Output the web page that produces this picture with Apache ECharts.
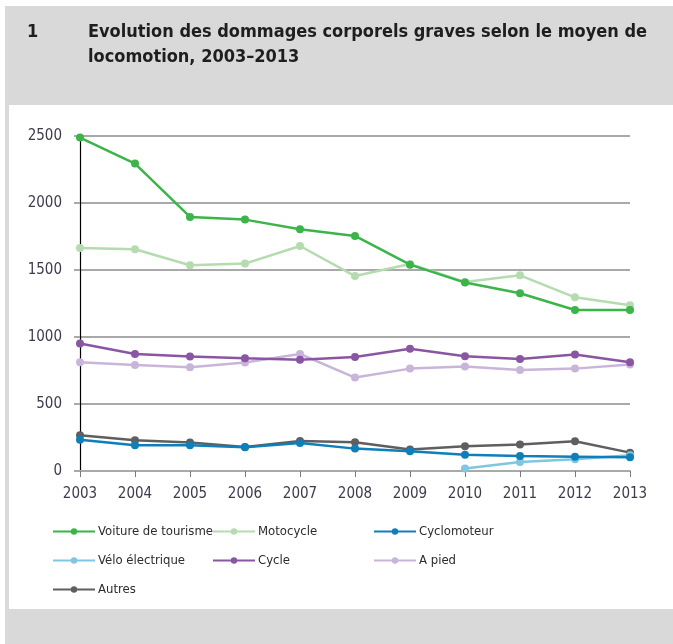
<!DOCTYPE html>
<html><head><meta charset="utf-8">
<script src="https://cdn.jsdelivr.net/npm/echarts@6/dist/echarts.min.js"></script>
<style>html,body{margin:0;padding:0;background:#fff}#c{width:673px;height:644px}</style>
</head><body><div id="c"></div>
<script>
const years = ['2003','2004','2005','2006','2007','2008','2009','2010','2011','2012','2013'];
const voiture = [2488, 2294, 1896, 1876, 1804, 1754, 1540, 1406, 1326, 1202, 1202];
const motocycle = [1664, 1655, 1535, 1548, 1679, 1455, 1545, 1411, 1460, 1296, 1237];
const cyclomoteur = [234, 192, 192, 177, 209, 167, 147, 122, 112, 107, 102];
const veloElec = [null, null, null, null, null, null, null, 18, 67, 87, 117];
const cycle = [951, 873, 854, 841, 831, 851, 913, 856, 836, 869, 811];
const aPied = [811, 791, 774, 809, 873, 697, 764, 779, 754, 764, 794];
const autres = [266, 229, 212, 179, 224, 214, 160, 184, 197, 222, 137];
const seriesNames = ['Voiture de tourisme','Motocycle','Cyclomoteur','Vélo électrique','Cycle','A pied','Autres'];
const seriesData = [voiture, motocycle, cyclomoteur, veloElec, cycle, aPied, autres];
const colors = ['#3bb54a','#b5dcae','#0e7fb8','#7fc6e2','#8a56a4','#c9b5da','#5f5f5f'];
const titleNum = '1';
const titleLine1 = 'Evolution des dommages corporels graves selon le moyen de';
const titleLine2 = 'locomotion, 2003–2013';

const FONT = '"DejaVu Sans Condensed", "Liberation Sans Narrow", sans-serif';
const chart = echarts.init(document.getElementById('c'), null, {renderer:'canvas'});

const legendPos = [[52,525],[212,525],[373,525],[52,554],[212,554],[373,554],[52,583]];
const legends = seriesNames.map((n,i)=>({
  data:[n], left:legendPos[i][0], top:legendPos[i][1],
  itemWidth:42, itemHeight:8, itemGap:0, padding:0,
  textStyle:{fontFamily:FONT, fontSize:13, color:'#2e2a30', padding:[0,0,0,-2]}
}));

chart.setOption({
  backgroundColor:'#ffffff',
  animation:false,
  graphic:[
    {type:'rect', shape:{x:5,y:6,width:668,height:638}, style:{fill:'#d9d9d9'}, z:-10, silent:true},
    {type:'rect', shape:{x:9,y:105,width:664,height:504}, style:{fill:'#ffffff'}, z:-9, silent:true},
    {type:'text', x:27, y:23, style:{text:titleNum, font:'bold 18px '+FONT, fill:'#1e1e1e'}},
    {type:'text', x:88, y:23, style:{text:titleLine1, font:'bold 18px '+FONT, fill:'#1e1e1e'}},
    {type:'text', x:88, y:48, style:{text:titleLine2, font:'bold 18px '+FONT, fill:'#1e1e1e'}}
  ],
  legend:legends,
  grid:{left:80, right:43, top:136, bottom:173, containLabel:false},
  xAxis:{
    type:'category', data:years, boundaryGap:false,
    axisLine:{lineStyle:{color:'#a9a9a9', width:2}},
    axisTick:{show:true, alignWithLabel:true, length:6, lineStyle:{color:'#7a7a7a', width:1}},
    axisLabel:{fontFamily:FONT, fontSize:15, color:'#3c3c4c', margin:16}
  },
  yAxis:{
    type:'value', min:0, max:2500, interval:500,
    axisLine:{show:true, lineStyle:{color:'#000', width:1.2}},
    axisTick:{show:true, length:6, lineStyle:{color:'#a9a9a9', width:2}},
    splitLine:{lineStyle:{color:'#a9a9a9', width:2}},
    axisLabel:{fontFamily:FONT, fontSize:15, color:'#3c3c4c', margin:18, formatter:v=>String(v)}
  },
  series: seriesNames.map((n,i)=>({
    name:n, type:'line', data:seriesData[i], connectNulls:false,
    symbol:'circle', symbolSize:8,
    lineStyle:{color:colors[i], width:2.5},
    itemStyle:{color:colors[i]},
    z: 10 - i
  }))
});
</script></body></html>
